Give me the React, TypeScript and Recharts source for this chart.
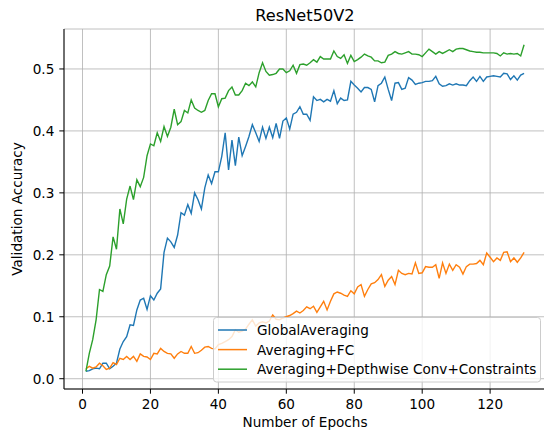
import React from 'react';
import { LineChart, Line, XAxis, YAxis, CartesianGrid } from 'recharts';

const epochs: number[] = Array.from({ length: 130 }, (_, i) => i + 1);

const globalAveraging: number[] = [
  0.012, 0.013, 0.016, 0.017, 0.016, 0.025, 0.025, 0.016, 0.02, 0.025,
  0.048, 0.06, 0.068, 0.087, 0.086, 0.111, 0.127, 0.13, 0.112, 0.134,
  0.127, 0.138, 0.145, 0.204, 0.227, 0.221, 0.212, 0.232, 0.268, 0.264,
  0.281, 0.267, 0.3, 0.289, 0.274, 0.308, 0.329, 0.315, 0.334, 0.334,
  0.359, 0.397, 0.337, 0.385, 0.344, 0.39, 0.36, 0.375, 0.391, 0.41,
  0.397, 0.383, 0.406, 0.388, 0.406, 0.389, 0.412, 0.388, 0.416, 0.421,
  0.403, 0.427, 0.43, 0.439, 0.427, 0.427, 0.417, 0.455, 0.449, 0.451,
  0.447, 0.451, 0.448, 0.465, 0.444, 0.453, 0.449, 0.45, 0.48, 0.474,
  0.469, 0.463, 0.47, 0.47, 0.467, 0.447, 0.473, 0.477, 0.487, 0.467,
  0.449, 0.477, 0.478, 0.467, 0.469, 0.486, 0.482, 0.475, 0.477, 0.478,
  0.48, 0.48, 0.481, 0.488, 0.476, 0.472, 0.473, 0.476, 0.474, 0.476,
  0.474, 0.474, 0.473, 0.481, 0.487, 0.48, 0.488, 0.48, 0.487, 0.488,
  0.489, 0.488, 0.487, 0.493, 0.492, 0.483, 0.489, 0.482, 0.49, 0.493,
];

const averagingFC: number[] = [
  0.016, 0.02, 0.017, 0.019, 0.025, 0.021, 0.015, 0.017, 0.026, 0.023,
  0.033, 0.031, 0.036, 0.031, 0.036, 0.028, 0.04, 0.036, 0.035, 0.031,
  0.041, 0.04, 0.049, 0.044, 0.041, 0.04, 0.033, 0.04, 0.044, 0.041,
  0.041, 0.052, 0.041, 0.042, 0.046, 0.051, 0.052, 0.049, 0.048, 0.055,
  0.057, 0.06, 0.063, 0.068, 0.079, 0.075, 0.077, 0.08, 0.088, 0.095,
  0.085, 0.09, 0.092, 0.09, 0.093, 0.103, 0.096, 0.095, 0.098, 0.1,
  0.102, 0.105, 0.109, 0.106, 0.11, 0.116, 0.113, 0.117, 0.107, 0.116,
  0.125, 0.111, 0.125, 0.137, 0.14, 0.138, 0.135, 0.133, 0.142, 0.137,
  0.148, 0.152, 0.133, 0.144, 0.153, 0.155, 0.16, 0.168, 0.149, 0.159,
  0.165, 0.152, 0.175, 0.17, 0.168, 0.17, 0.169, 0.187, 0.17, 0.171,
  0.181, 0.18, 0.18, 0.184, 0.162, 0.187, 0.17, 0.185, 0.175, 0.184,
  0.18, 0.169, 0.181, 0.185, 0.185, 0.186, 0.191, 0.184, 0.203, 0.196,
  0.189, 0.195, 0.191, 0.204, 0.205, 0.189, 0.195, 0.188, 0.195, 0.204,
];

const depthwiseConstraints: number[] = [
  0.012, 0.041, 0.063, 0.095, 0.144, 0.141, 0.168, 0.182, 0.229, 0.209,
  0.274, 0.25, 0.29, 0.311, 0.289, 0.321, 0.31, 0.325, 0.36, 0.379,
  0.376, 0.397, 0.383, 0.407, 0.391, 0.406, 0.435, 0.41, 0.415, 0.433,
  0.429, 0.45, 0.437, 0.433, 0.43, 0.433, 0.449, 0.46, 0.46, 0.439,
  0.452, 0.453, 0.465, 0.471, 0.458, 0.458, 0.465, 0.477, 0.473, 0.479,
  0.471, 0.494, 0.51, 0.496, 0.49, 0.491, 0.493, 0.5, 0.5, 0.494,
  0.497, 0.506, 0.493, 0.507, 0.508, 0.506, 0.51, 0.515, 0.511, 0.52,
  0.516, 0.516, 0.516, 0.529, 0.52, 0.517, 0.523, 0.509, 0.522, 0.512,
  0.515, 0.519, 0.524, 0.521, 0.519, 0.513, 0.513, 0.51, 0.511, 0.522,
  0.524, 0.528, 0.525, 0.524, 0.526, 0.528, 0.524, 0.524, 0.523, 0.52,
  0.526, 0.532, 0.528, 0.524, 0.528, 0.525, 0.528, 0.531, 0.528, 0.532,
  0.533, 0.533, 0.531, 0.529, 0.528, 0.527, 0.527, 0.526, 0.526, 0.526,
  0.526, 0.525, 0.521, 0.526, 0.524, 0.525, 0.524, 0.525, 0.521, 0.539,
];

const xTicks: number[] = [0, 20, 40, 60, 80, 100, 120];
const yTicks: number[] = [0, 0.1, 0.2, 0.3, 0.4, 0.5];

const seriesNames: string[] = [
  'GlobalAveraging',
  'Averaging+FC',
  'Averaging+Depthwise Conv+Constraints',
];
const seriesColors: string[] = ['#1f77b4', '#ff7f0e', '#2ca02c'];
const seriesKeys: string[] = ['ga', 'fc', 'dw'];

const title = 'ResNet50V2';
const xLabel = 'Number of Epochs';
const yLabel = 'Validation Accuracy';

const data = epochs.map((e, i) => ({
  epoch: e,
  ga: globalAveraging[i],
  fc: averagingFC[i],
  dw: depthwiseConstraints[i],
}));

const FONT = "'DejaVu Sans', sans-serif";
const FS = 13.6;

export default function App() {
  return (
    <div
      style={{
        position: 'absolute',
        left: 0,
        top: 0,
        width: 544,
        height: 434,
        overflow: 'hidden',
        background: '#fff',
        fontFamily: FONT,
      }}
    >
      <LineChart
        width={550}
        height={434}
        data={data}
        margin={{ top: 29, right: 4, bottom: 5, left: 0 }}
        style={{ fontFamily: FONT }}
      >
        <CartesianGrid stroke="#b0b0b0" strokeWidth={0.8} />
        <XAxis
          dataKey="epoch"
          type="number"
          domain={[-5.45, 136.45]}
          ticks={xTicks}
          allowDataOverflow
          height={40}
          tickSize={4.7}
          tickMargin={5.3}
          stroke="#000"
          strokeWidth={1}
          tick={{ fill: '#000', fontSize: FS }}
        />
        <XAxis
          xAxisId="top"
          dataKey="epoch"
          type="number"
          orientation="top"
          domain={[-5.45, 136.45]}
          height={0}
          tick={false}
          tickLine={false}
          stroke="#000"
        />
        <YAxis
          type="number"
          domain={[-0.0166, 0.5645]}
          ticks={yTicks}
          allowDataOverflow
          width={64}
          tickSize={4.7}
          tickMargin={5}
          stroke="#000"
          tick={{ fill: '#000', fontSize: FS }}
          tickFormatter={(v: number) => v.toFixed(1)}
        />
        {seriesKeys.map((k, i) => (
          <Line
            key={k}
            type="linear"
            dataKey={k}
            stroke={seriesColors[i]}
            strokeWidth={1.4}
            dot={false}
            isAnimationActive={false}
          />
        ))}
      </LineChart>
      <svg
        width={544}
        height={434}
        style={{ position: 'absolute', left: 0, top: 0, pointerEvents: 'none' }}
        fontFamily={FONT}
      >
        <text x={305} y={21} textAnchor="middle" fontSize={16.2} fill="#000">
          {title}
        </text>
        <text x={305} y={426.5} textAnchor="middle" fontSize={FS} fill="#000">
          {xLabel}
        </text>
        <text
          transform="translate(22,209) rotate(-90)"
          textAnchor="middle"
          fontSize={FS}
          fill="#000"
        >
          {yLabel}
        </text>
        <rect
          x={213.5}
          y={317.5}
          width={327}
          height={64.5}
          rx={3}
          fill="#fff"
          fillOpacity={0.8}
          stroke="#cccccc"
          strokeWidth={1}
        />
        {seriesNames.map((name, i) => {
          const cy = 330 + i * 19.6;
          return (
            <g key={name}>
              <line x1={218} x2={247} y1={cy} y2={cy} stroke={seriesColors[i]} strokeWidth={1.5} />
              <text x={257} y={cy} dominantBaseline="central" fontSize={FS} fill="#000">
                {name}
              </text>
            </g>
          );
        })}
      </svg>
    </div>
  );
}
